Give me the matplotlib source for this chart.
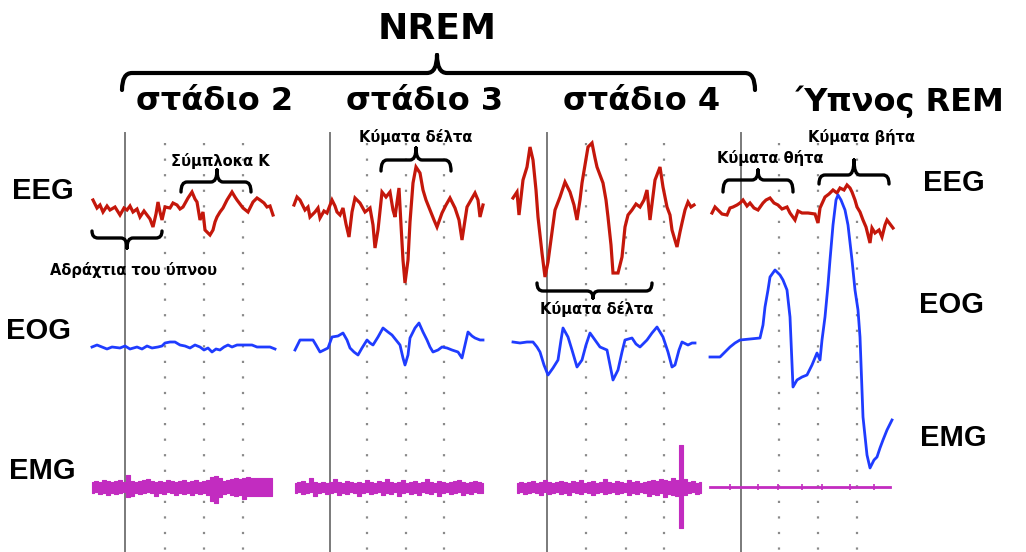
import numpy as np
import matplotlib.pyplot as plt
from matplotlib.path import Path
from matplotlib.patches import PathPatch

# ---- data (time offset from start of each panel, amplitude up from row baseline) ----
stages = ['στάδιο 2', 'στάδιο 3', 'στάδιο 4', 'Ύπνος REM']
channels = ['EEG', 'EOG', 'EMG']

eeg_t = [
    [1, 5, 8, 11, 15, 18, 23, 28, 32, 35, 38, 41, 45, 48, 52, 55, 58, 61, 64, 66, 68, 70, 73, 78, 81, 85, 88,
     91, 96, 100, 103, 105, 108, 111, 113, 118, 121, 123, 125, 128, 131, 135, 140, 143, 145, 148, 151, 156,
     161, 165, 168, 172, 175, 178, 181],
    [1, 4, 7, 12, 15, 17, 22, 25, 27, 31, 34, 39, 42, 44, 47, 50, 53, 56, 59, 62, 67, 72, 77, 80, 82, 85, 89,
     93, 97, 100, 102, 106, 108, 110, 112, 115, 117, 120, 123, 127, 130, 133, 137, 141, 144, 149, 153, 157,
     162, 166, 169, 174, 178, 182, 185, 187, 190],
    [1, 5, 7, 11, 15, 18, 21, 24, 26, 30, 33, 36, 38, 43, 48, 53, 58, 62, 65, 68, 70, 73, 76, 80, 83, 85, 91,
     94, 96, 99, 101, 106, 110, 113, 116, 120, 124, 128, 132, 135, 138, 143, 148, 151, 155, 158, 160, 165,
     168, 170, 173, 176, 179, 182],
    [2, 5, 8, 12, 17, 20, 23, 27, 30, 33, 37, 40, 44, 48, 53, 56, 60, 64, 68, 72, 77, 80, 85, 88, 92, 98, 105,
     108, 110, 115, 119, 123, 127, 130, 134, 137, 140, 142, 145, 147, 150, 153, 156, 160, 162, 165, 169, 172,
     175, 177, 180, 183],
]
eeg_v = [
    [10, 2, 5, -2, 4, 0, 3, -5, 2, 0, 4, -2, 1, -7, -1, -5, -9, -17, -4, 8, -2, -10, 3, 2, 7, 5, 1,
     3, 12, 18, 11, 8, -10, -2, -20, -25, -20, -12, -7, -2, 2, 10, 18, 13, 10, 6, 2, -2,
     8, 12, 10, 7, 3, 4, -5],
    [5, 13, 10, 0, 3, -7, -2, 2, -8, -1, -3, 10, 4, -2, -5, 2, -14, -27, -2, 12, 7, -2, 2, -15, -38, -20, 18,
     13, 18, 0, -7, 22, -15, -50, -73, -50, -12, 27, 43, 37, 20, 10, 0, -10, -17, -3, 5, 12,
     2, -10, -30, 3, 10, 17, 10, -7, 5],
    [12, 18, -5, 30, 43, 63, 50, 20, -7, -43, -67, -52, -37, 0, 13, 28, 18, 5, -10, 10, 27, 45, 63, 67, 52, 43, 27,
     10, -7, -35, -63, -63, -47, -17, -5, 0, 6, 3, 10, 20, -10, 30, 43, 23, 3, -5, -20, -37,
     -22, -13, 0, 8, 3, 5],
    [-3, 3, 0, -4, -5, 2, 3, 5, 7, 10, 4, 7, 2, 0, 7, 10, 12, 7, 5, 1, 3, -3, -10, -1, -3, -3, -4,
     -13, 2, 13, 16, 20, 17, 22, 20, 25, 22, 18, 10, 3, -2, -10, -17, -33, -18, -23, -20, -27,
     -15, -10, -14, -18],
]

eog_t = [
    [0, 5, 10, 15, 20, 28, 33, 38, 45, 50, 55, 60, 66, 70, 73, 78, 83, 88, 93, 98, 103, 108, 112, 116, 120,
     124, 128, 132, 136, 140, 145, 150, 155, 160, 165, 172, 178, 183],
    [2, 7, 14, 20, 23, 27, 31, 35, 39, 45, 50, 54, 57, 61, 65, 69, 74, 77, 80, 85, 90, 95, 99, 103, 107, 110,
     112, 115, 117, 122, 126, 130, 134, 137, 140, 145, 149, 154, 159, 165, 169, 172, 175, 179, 182, 187, 190],
    [1, 8, 15, 21, 25, 28, 32, 36, 41, 46, 49, 51, 56, 60, 65, 70, 74, 78, 83, 88, 95, 98, 101, 106, 110, 113,
     120, 124, 128, 135, 140, 145, 151, 156, 160, 163, 167, 170, 176, 180, 183],
    [0, 10, 15, 20, 25, 30, 40, 50, 53, 55, 58, 60, 65, 70, 73, 77, 80, 83, 87, 92, 97, 102, 107, 110, 112,
     115, 118, 120, 123, 126, 128, 131, 135, 138, 142, 145, 148, 150, 153, 157, 160, 164, 167, 170, 173,
     177, 182],
]
eog_v = [
    [0, 2, 0, -2, 0, -1, 1, -2, 0, -2, 1, -1, 0, 1, 4, 5, 5, 2, 1, -1, 2, 0, -3, -1, -5,
     -2, -3, 0, 2, 0, 2, 2, 2, 2, 0, 0, 0, -2],
    [-3, 7, 7, 7, 2, -5, -3, -1, 10, 11, 14, 7, -1, -5, -8, -1, 7, 4, 2, 10, 19, 15, 12, 7, 2, -11,
     -18, -8, 9, 19, 24, 15, 7, 0, -5, -3, 0, -1, -3, -5, -11, 2, 15, 11, 9, 7, 7],
    [5, 4, 5, 5, 0, -5, -18, -28, -21, -13, 7, 19, 10, -3, -20, -13, 2, 14, 7, 0, -3, -18, -33, -23, -5, 7,
     9, 3, 0, 7, 14, 20, 10, -5, -20, -18, -3, 5, 2, 4, 4],
    [-10, -10, -5, 0, 4, 7, 8, 9, 22, 40, 57, 70, 77, 72, 67, 57, 30, -40, -33, -30, -28, -18, -6, -13, 7,
     30, 62, 87, 122, 147, 152, 147, 137, 122, 87, 57, 37, 10, -70, -108, -121, -113, -110, -101, -93,
     -83, -73],
]

# EMG envelopes, sampled every 4 time units
emg_up = [
    [5, 6, 5, 7, 6, 5, 6, 7, 5, 12, 6, 5, 6, 7, 8, 6, 5, 6, 5, 7, 6, 5, 6, 7, 5, 6, 7, 5, 6, 7, 10, 11, 9, 6,
     7, 8, 9, 8, 9, 10, 9, 9, 9, 9, 9, 9],
    [4, 5, 6, 4, 9, 5, 4, 5, 4, 5, 8, 5, 4, 6, 5, 4, 5, 4, 7, 5, 4, 6, 5, 8, 5, 4, 5, 7, 4, 5, 6, 4, 5, 8, 5,
     4, 6, 5, 4, 5, 6, 7, 5, 4, 5, 6, 5, 4],
    [4, 5, 4, 5, 6, 4, 5, 7, 5, 4, 5, 6, 5, 4, 6, 5, 7, 4, 5, 6, 4, 5, 8, 5, 4, 6, 5, 4, 7, 5, 6, 4, 5, 6, 7,
     6, 8, 7, 6, 9, 7, 42, 8, 5, 6, 4, 5],
    [1, 1, 1, 1, 1, 3, 1, 1, 1, 1, 1, 1, 3, 1, 1, 1, 1, 3, 1, 1, 1, 1, 1, 3, 1, 1, 1, 1, 3, 1, 1, 1, 1, 1, 1,
     3, 1, 1, 1, 1, 1, 3, 1, 1, 1, 1],
]
emg_dn = [
    [6, 5, 7, 6, 8, 6, 7, 6, 5, 10, 9, 6, 7, 6, 5, 6, 9, 6, 7, 5, 6, 8, 6, 7, 6, 8, 6, 7, 6, 8, 14, 16, 10, 7,
     6, 8, 9, 8, 12, 9, 9, 9, 9, 9, 9, 9],
    [6, 5, 7, 6, 5, 9, 6, 5, 7, 6, 5, 8, 6, 7, 5, 6, 9, 6, 5, 7, 6, 5, 8, 6, 7, 5, 9, 6, 5, 7, 6, 8, 5, 6, 7,
     5, 9, 6, 5, 7, 6, 5, 8, 6, 7, 5, 6, 6],
    [6, 5, 7, 6, 5, 6, 8, 5, 7, 6, 5, 7, 6, 8, 5, 6, 7, 5, 6, 8, 6, 5, 7, 6, 5, 7, 6, 5, 8, 6, 7, 5, 6, 9, 7,
     8, 6, 10, 7, 8, 9, 41, 8, 6, 5, 7, 6],
    [1, 1, 1, 1, 1, 3, 1, 1, 1, 1, 1, 1, 3, 1, 1, 1, 1, 3, 1, 1, 1, 1, 1, 3, 1, 1, 1, 1, 3, 1, 1, 1, 1, 1, 1,
     3, 1, 1, 1, 1, 1, 3, 1, 1, 1, 1],
]

notes = ['Σύμπλοκα Κ', 'Αδράχτια του ύπνου', 'Κύματα δέλτα', 'Κύματα δέλτα', 'Κύματα θήτα', 'Κύματα βήτα']

# ---- layout (page pixels) ----
W, H = 1026, 552
panel_x0 = {'EEG': [92, 293, 512, 710], 'EOG': [92, 293, 512, 710], 'EMG': [92, 295, 517, 710]}
baseline = {'EEG': 210, 'EOG': 347, 'EMG': 487}
solid_x = [125, 330, 547, 741]
dotted_x = [[165, 204, 243], [367, 406, 444], [586, 626, 664], [779, 818, 857]]

c_eeg = '#c4170b'
c_eog = '#1f3cff'
c_emg = '#c22cc0'

fig = plt.figure(figsize=(W / 100, H / 100), dpi=100)
ax = fig.add_axes([0, 0, 1, 1])
ax.set_xlim(0, W)
ax.set_ylim(H, 0)
ax.axis('off')

for i in range(4):
    ax.plot([solid_x[i], solid_x[i]], [133, H], color='#7a7a7a', lw=1.4, zorder=1)
    for xd in dotted_x[i]:
        ax.plot([xd, xd], [143, H], color='#8a8a8a', lw=1.6, ls=(0, (1, 6)), zorder=1)

for i in range(4):
    x0 = panel_x0['EEG'][i]
    ax.plot(x0 + np.array(eeg_t[i]), baseline['EEG'] - np.array(eeg_v[i]), color=c_eeg, lw=2.3,
            solid_joinstyle='miter', zorder=3)
    x0 = panel_x0['EOG'][i]
    ax.plot(x0 + np.array(eog_t[i]), baseline['EOG'] - np.array(eog_v[i]), color=c_eog, lw=2.0,
            zorder=4)
    x0 = panel_x0['EMG'][i]
    up = np.array(emg_up[i])
    dn = np.array(emg_dn[i])
    tt = x0 + np.arange(len(up)) * 4
    if i < 3:
        ax.fill_between(tt, baseline['EMG'] - up, baseline['EMG'] + dn, step='mid', color=c_emg,
                        lw=0.8, edgecolor=c_emg, zorder=3)
    else:
        ax.plot(tt, np.full(len(up), baseline['EMG']), color=c_emg, lw=2, zorder=3)
        ax.vlines(tt[up > 1], baseline['EMG'] - up[up > 1], baseline['EMG'] + dn[up > 1], color=c_emg,
                  lw=1.2, zorder=3)


def brace(x0, x1, ybar, yend, ytip, xtip=None, lw=2.4, r=6):
    xm = (x0 + x1) / 2 if xtip is None else xtip
    verts = [(x0, yend), (x0, ybar), (x0 + r, ybar), (xm - r, ybar), (xm, ybar), (xm, ytip),
             (xm, ytip), (xm, ybar), (xm + r, ybar), (x1 - r, ybar), (x1, ybar), (x1, yend)]
    codes = [Path.MOVETO, Path.CURVE3, Path.CURVE3, Path.LINETO, Path.CURVE3, Path.CURVE3,
             Path.MOVETO, Path.CURVE3, Path.CURVE3, Path.LINETO, Path.CURVE3, Path.CURVE3]
    ax.add_patch(PathPatch(Path(verts, codes), fill=False, lw=lw, color='black', capstyle='round', zorder=5))


wide = ['DejaVu Sans']
sans = ['Liberation Sans', 'DejaVu Sans']

ax.text(437, 29, 'NREM', ha='center', va='center', fontsize=26, fontweight='bold', family=wide)
brace(122, 755, 73, 90, 55, xtip=437, lw=3, r=10)

stage_cx = [215, 424, 642, 900]
for i, s in enumerate(stages):
    ax.text(stage_cx[i], 102, s, ha='center', va='center', fontsize=23, fontweight='bold', family=wide)

for lab, (x, y) in zip(channels, [(43, 191), (38, 331), (42, 471)]):
    ax.text(x, y, lab, ha='center', va='center', fontsize=21, fontweight='bold', family=sans)
for lab, (x, y) in zip(channels, [(954, 183), (951, 305), (953, 438)]):
    ax.text(x, y, lab, ha='center', va='center', fontsize=21, fontweight='bold', family=sans)

note_pos = [(220, 161), (133, 270), (416, 137), (597, 309), (770, 158), (862, 137)]
for lab, (x, y) in zip(notes, note_pos):
    ax.text(x, y, lab, ha='center', va='center', fontsize=10.5, fontweight='bold', family=wide)
brace(181, 251, 182, 192, 170, xtip=217)
brace(92, 162, 238, 231, 248, xtip=127)
brace(381, 451, 160, 171, 148, xtip=416)
brace(537, 652, 291, 283, 298, xtip=593)
brace(723, 793, 180, 192, 170, xtip=758)
brace(819, 889, 175, 184, 160, xtip=854)

fig.savefig('out.png', dpi=100)
